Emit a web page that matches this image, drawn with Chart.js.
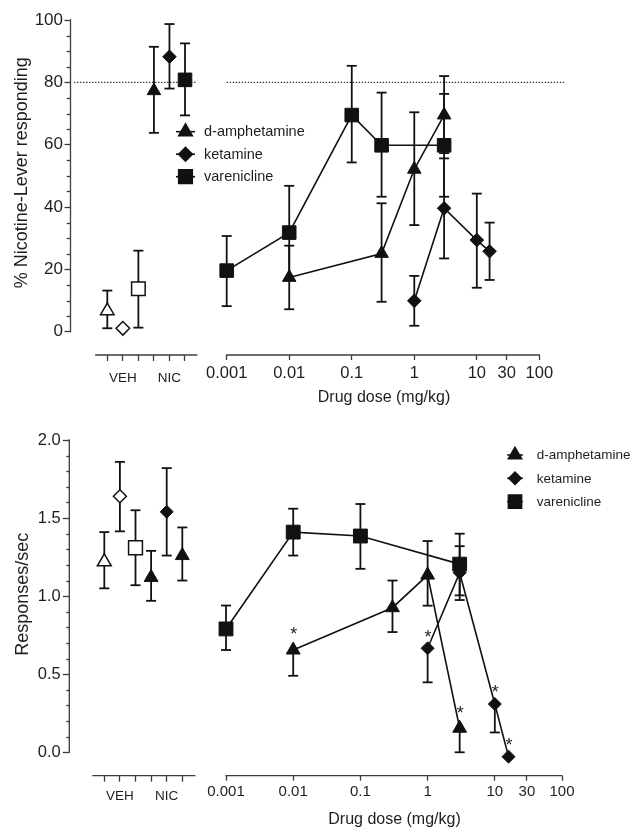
<!DOCTYPE html>
<html>
<head>
<meta charset="utf-8">
<title>Nicotine discrimination – dose response</title>
<script src="https://cdn.jsdelivr.net/npm/chart.js@4.4.1/dist/chart.umd.min.js"></script>
<style>
  html, body { margin: 0; padding: 0; background: #ffffff; }
  #page { position: relative; width: 633px; height: 831px; overflow: hidden; background: #fff; }
  canvas { position: absolute; left: 0; }
  #cA { top: 0; }
  #cB { top: 415px; }
</style>
</head>
<body>
<div id="page">
  <canvas id="cA" width="633" height="415"></canvas>
  <canvas id="cB" width="633" height="416"></canvas>
</div>
<script>
// ================= DATA =================
const drugNames = ['d-amphetamine', 'ketamine', 'varenicline'];
const drugShapes = ['triangle', 'diamond', 'square'];

const groupTickValues = [1, 2, 3, 4, 5, 6];
const groupTickLabels = ['', 'VEH', '', '', 'NIC', ''];
const doseTickValues = [0.001, 0.01, 0.1, 1, 10, 30, 100];
const doseTickLabels = ['0.001', '0.01', '0.1', '1', '10', '30', '100'];

// ---- Panel A: % nicotine-lever responding ----
const aYTickLabels = ['0', '20', '40', '60', '80', '100'];
const aCriterion = 80;
const aCtrlPos = [1, 2, 3, 4, 5, 6];
const aCtrlShape = ['triangle', 'diamond', 'square', 'triangle', 'diamond', 'square'];
const aCtrlFilled = [false, false, false, true, true, true];
const aCtrlMean = [6.7, 1.1, 13.8, 77.3, 88.2, 80.8];
const aCtrlHi = [13.2, 1.1, 26.0, 91.4, 98.7, 92.5];
const aCtrlLo = [1.1, 1.1, 1.3, 63.8, 78.0, 69.4];

const aAmphDose = [0.01, 0.3, 1, 3];
const aAmphMean = [17.4, 25.1, 52.1, 69.5];
const aAmphHi = [27.6, 41.2, 70.4, 82.0];
const aAmphLo = [7.2, 9.6, 34.2, 57.3];

const aKetDose = [1, 3, 10, 16];
const aKetMean = [9.9, 39.6, 29.4, 25.8];
const aKetHi = [17.9, 55.6, 44.3, 35.0];
const aKetLo = [1.9, 23.5, 14.1, 16.6];

const aVarDose = [0.001, 0.01, 0.1, 0.3, 3];
const aVarMean = [19.6, 31.8, 69.5, 59.8, 59.8];
const aVarHi = [30.7, 46.8, 85.3, 76.7, 76.3];
const aVarLo = [8.2, 16.8, 54.3, 43.3, 43.3];

// ---- Panel B: responses/sec ----
const bYTickLabels = ['0.0', '0.5', '1.0', '1.5', '2.0'];
const bCtrlPos = [1, 2, 3, 4, 5, 6];
const bCtrlShape = ['triangle', 'diamond', 'square', 'triangle', 'diamond', 'triangle'];
const bCtrlFilled = [false, false, false, true, true, true];
const bCtrlMean = [1.22, 1.64, 1.31, 1.12, 1.54, 1.26];
const bCtrlHi = [1.41, 1.86, 1.55, 1.29, 1.82, 1.44];
const bCtrlLo = [1.05, 1.415, 1.07, 0.97, 1.26, 1.10];

const bAmphDose = [0.01, 0.3, 1, 3];
const bAmphMean = [0.655, 0.926, 1.135, 0.154];
const bAmphHi = [0.655, 1.10, 1.353, 0.154];
const bAmphLo = [0.49, 0.77, 0.939, 0.0];
const bAmphSig = [true, false, false, true];

const bKetDose = [1, 3, 10, 16];
const bKetMean = [0.666, 1.15, 0.309, -0.028];
const bKetHi = [0.666, 1.32, 0.309, -0.028];
const bKetLo = [0.448, 0.975, 0.127, -0.028];
const bKetSig = [true, false, true, true];

const bVarDose = [0.001, 0.01, 0.1, 3];
const bVarMean = [0.79, 1.41, 1.385, 1.205];
const bVarHi = [0.94, 1.56, 1.59, 1.40];
const bVarLo = [0.655, 1.26, 1.175, 1.005];
const bVarSig = [false, false, false, false];

// ================= STYLE =================
const INK = '#111111';
const AXIS = '#3c3c3c';
const TEXT = '#1e1e1e';
const FONT = "'Liberation Sans', Arial, Helvetica, sans-serif";
const STYLE = { triangle: 'triangle', diamond: 'rectRot', square: 'rect' };

function pts(xs, ys) { return xs.map((x, i) => ({ x: x, y: ys[i] })); }

function drugDataset(name, shape, dose, mean, hi, lo, sig, radius) {
  return {
    label: name, shape: shape, isDrug: true,
    xAxisID: 'xr', yAxisID: 'y',
    data: pts(dose, mean), errHi: hi, errLo: lo, sig: sig || dose.map(() => false),
    showLine: true, borderColor: INK, borderWidth: 1.6, backgroundColor: INK,
    pointStyle: STYLE[shape], pointRadius: radius[shape], pointHoverRadius: radius[shape],
    pointBackgroundColor: INK, pointBorderColor: INK, pointBorderWidth: 1
  };
}
function ctrlDatasets(pos, shape, filled, mean, hi, lo, radius) {
  return pos.map((p, i) => ({
    label: 'control ' + (i + 1), isDrug: false,
    xAxisID: 'xl', yAxisID: 'y',
    data: [{ x: p, y: mean[i] }], errHi: [hi[i]], errLo: [lo[i]], sig: [false],
    showLine: false,
    pointStyle: STYLE[shape[i]], pointRadius: radius[shape[i]], pointHoverRadius: radius[shape[i]],
    pointBackgroundColor: filled[i] ? INK : '#ffffff', pointBorderColor: INK,
    pointBorderWidth: filled[i] ? 1 : 1.5
  }));
}

function line(ctx, x1, y1, x2, y2) { ctx.beginPath(); ctx.moveTo(x1, y1); ctx.lineTo(x2, y2); ctx.stroke(); }
function isMajor(v, major) { const k = v / major; return Math.abs(k - Math.round(k)) < 1e-6; }

const decorPlugin = {
  id: 'decor',
  beforeDatasetsDraw(chart) {
    const c = chart.options.plugins.decor;
    const ctx = chart.ctx, y = chart.scales.y, xl = chart.scales.xl, xr = chart.scales.xr, area = chart.chartArea;
    ctx.save();
    // axis lines (offset, GraphPad style)
    ctx.strokeStyle = AXIS; ctx.lineWidth = 1.3;
    line(ctx, area.left, y.getPixelForValue(0) + 0.65, area.left, y.getPixelForValue(c.yMax) - 0.65);
    line(ctx, xl.getPixelForValue(c.xlAxis[0]), area.bottom, xl.getPixelForValue(c.xlAxis[1]), area.bottom);
    line(ctx, xr.getPixelForValue(doseTickValues[0]) - 0.65, area.bottom,
              xr.getPixelForValue(doseTickValues[doseTickValues.length - 1]) + 0.65, area.bottom);
    // minor y ticks (shorter than the major ones drawn by the scale)
    y.ticks.forEach(t => {
      if (isMajor(t.value, c.yMajor)) return;
      const py = Math.round(y.getPixelForValue(t.value)) + 0.5;
      line(ctx, area.left - c.yMinorLen, py, area.left, py);
    });
    // criterion line
    if (c.ref != null) {
      const yy = y.getPixelForValue(c.ref);
      ctx.strokeStyle = '#333'; ctx.lineWidth = 1.4; ctx.setLineDash([1.4, 1.6]);
      line(ctx, xl.getPixelForValue(c.refLeft[0]), yy, xl.getPixelForValue(c.refLeft[1]), yy);
      line(ctx, xr.getPixelForValue(c.refRight[0]), yy, xr.getPixelForValue(c.refRight[1]), yy);
      ctx.setLineDash([]);
    }
    // error bars
    ctx.strokeStyle = INK; ctx.lineWidth = 1.8;
    chart.data.datasets.forEach(ds => {
      const xs = chart.scales[ds.xAxisID];
      ds.data.forEach((p, i) => {
        const px = xs.getPixelForValue(p.x), pm = y.getPixelForValue(p.y);
        [ds.errHi[i], ds.errLo[i]].forEach(v => {
          if (v == null || Math.abs(v - p.y) < 1e-9) return;
          const pv = y.getPixelForValue(v);
          line(ctx, px, pm, px, pv);
          line(ctx, px - c.cap, pv, px + c.cap, pv);
        });
      });
    });
    ctx.restore();
  },
  afterDatasetsDraw(chart) {
    const c = chart.options.plugins.decor;
    const ctx = chart.ctx, y = chart.scales.y, xr = chart.scales.xr;
    ctx.save();
    ctx.fillStyle = TEXT;
    // significance asterisks
    ctx.font = c.starFont + 'px ' + FONT; ctx.textAlign = 'center'; ctx.textBaseline = 'alphabetic';
    chart.data.datasets.forEach(ds => {
      if (!ds.isDrug) return;
      ds.data.forEach((p, i) => {
        if (!ds.sig[i]) return;
        const px = chart.scales[ds.xAxisID].getPixelForValue(p.x), py = y.getPixelForValue(p.y);
        ctx.fillText('*', px + 0.5, py - c.starOffset[ds.shape] + c.starFont * 0.57);
      });
    });
    // legend
    const L = c.legend;
    drugNames.forEach((name, k) => {
      const ds = chart.data.datasets.find(d => d.isDrug && d.label === name);
      const ly = L.y + k * L.dy;
      ctx.strokeStyle = INK; ctx.lineWidth = 1.6;
      line(ctx, L.x - L.half, ly, L.x + L.half, ly);
      ctx.fillStyle = INK;
      Chart.helpers.drawPoint(ctx, { pointStyle: ds.pointStyle, radius: ds.pointRadius * L.scale, rotation: 0, borderWidth: 1 }, L.x, ly);
      ctx.fillStyle = TEXT; ctx.font = L.font + 'px ' + FONT; ctx.textAlign = 'left'; ctx.textBaseline = 'middle';
      ctx.fillText(name, L.textX, ly + 0.5);
    });
    // axis titles
    ctx.fillStyle = TEXT; ctx.textAlign = 'center'; ctx.textBaseline = 'middle';
    ctx.font = c.yTitleFont + 'px ' + FONT;
    ctx.save(); ctx.translate(c.yTitleX, c.yTitleY); ctx.rotate(-Math.PI / 2); ctx.fillText(c.yTitle, 0, 0); ctx.restore();
    const x0 = xr.getPixelForValue(doseTickValues[0]), x1 = xr.getPixelForValue(doseTickValues[doseTickValues.length - 1]);
    ctx.font = c.xTitleFont + 'px ' + FONT;
    ctx.fillText(c.xTitle, (x0 + x1) / 2 + c.xTitleDx, c.xTitleY);
    ctx.restore();
  }
};

function makePanel(c, datasets) {
  return new Chart(document.getElementById(c.canvas), {
    type: 'scatter',
    data: { datasets: datasets },
    plugins: [decorPlugin],
    options: {
      responsive: false, animation: false, events: [], devicePixelRatio: 1,
      layout: { padding: { top: c.padTop, right: c.padRight, bottom: 0, left: 0 } },
      plugins: {
        legend: { display: false }, tooltip: { enabled: false },
        decor: c
      },
      scales: {
        y: {
          type: 'linear', position: 'left', min: c.yMin, max: c.yMax, bounds: 'data',
          afterFit: s => { s.width = c.yWidth; },
          afterBuildTicks: s => {
            const t = []; const n = Math.round(c.yMax / c.yStep);
            for (let k = 0; k <= n; k++) t.push({ value: +(k * c.yStep).toFixed(6) });
            s.ticks = t;
          },
          ticks: {
            autoSkip: false, padding: c.yPad, color: TEXT, font: { size: c.yFont, family: FONT },
            callback: v => isMajor(v, c.yMajor) ? c.yLabels[Math.round(v / c.yMajor)] : ''
          },
          grid: {
            drawOnChartArea: false, drawTicks: true, tickLength: c.yMajorLen, tickWidth: 1.3,
            tickColor: ctx => (ctx.tick && isMajor(ctx.tick.value, c.yMajor)) ? AXIS : 'rgba(0,0,0,0)'
          },
          border: { display: false }
        },
        xl: {
          type: 'linear', position: 'bottom', weight: 0, stack: 'xaxis', stackWeight: c.xlWeight,
          min: c.xlMin, max: c.xlMax, bounds: 'data',
          afterFit: s => { s.height = c.xrHeight; },
          afterBuildTicks: s => { s.ticks = groupTickValues.map(v => ({ value: v })); },
          ticks: {
            autoSkip: false, maxRotation: 0, minRotation: 0, padding: c.xlPad, color: TEXT,
            font: { size: c.xlFont, family: FONT },
            callback: (v, i) => groupTickLabels[i]
          },
          grid: { drawOnChartArea: false, drawTicks: true, tickLength: 6, tickColor: AXIS, tickWidth: 1.3 },
          border: { display: false }
        },
        xr: {
          type: 'logarithmic', position: 'bottom', weight: 1, stack: 'xaxis', stackWeight: c.xrWeight,
          min: c.xrMin, max: c.xrMax, bounds: 'data',
          afterFit: s => { s.height = c.xrHeight; },
          afterBuildTicks: s => { s.ticks = doseTickValues.map(v => ({ value: v })); },
          ticks: {
            autoSkip: false, maxRotation: 0, minRotation: 0, padding: c.xrPad, color: TEXT,
            font: { size: c.xrFont, family: FONT },
            callback: (v, i) => doseTickLabels[i]
          },
          grid: { drawOnChartArea: false, drawTicks: true, tickLength: 5, tickColor: AXIS, tickWidth: 1.3 },
          border: { display: false }
        }
      }
    }
  });
}

// ---------- Panel A ----------
// plot area spans x 70.5..610; left segment 70.5..205, log segment 205..610
const panelA = {
  canvas: 'cA', padTop: 20, padRight: 23, yWidth: 70.5, xrHeight: 60,
  yMin: -7.475, yMax: 100, yStep: 5, yMajor: 20, yLabels: aYTickLabels, yMajorLen: 6, yMinorLen: 3.8,
  xlWeight: 134.5, xrWeight: 405,
  xlMin: -1.368, xlMax: 7.287, xrMin: Math.pow(10, -3.347), xrMax: Math.pow(10, 3.13),
  xlAxis: [0.22, 6.8],
  yFont: 17, yPad: 1.5, xrFont: 16.5, xrPad: 3.4, xlFont: 13.5, xlPad: 8.9,
  ref: aCriterion, refLeft: [-1.14, 6.77], refRight: [0.001, 257],
  cap: 5, starFont: 18, starOffset: { triangle: 20, diamond: 16, square: 18 },
  radius: { triangle: 7.8, diamond: 6.8, square: 9.6 },
  legend: { x: 185.5, y: 131.7, dy: 22.5, half: 9.5, textX: 204, font: 14.5, scale: 1 },
  yTitle: '% Nicotine-Lever responding', yTitleFont: 18, yTitleX: 22, yTitleY: 172.7,
  xTitle: 'Drug dose (mg/kg)', xTitleFont: 16, xTitleDx: 1, xTitleY: 397.6
};
makePanel(panelA, [
  drugDataset(drugNames[2], drugShapes[2], aVarDose, aVarMean, aVarHi, aVarLo, null, panelA.radius),
  drugDataset(drugNames[0], drugShapes[0], aAmphDose, aAmphMean, aAmphHi, aAmphLo, null, panelA.radius),
  drugDataset(drugNames[1], drugShapes[1], aKetDose, aKetMean, aKetHi, aKetLo, null, panelA.radius)
].concat(ctrlDatasets(aCtrlPos, aCtrlShape, aCtrlFilled, aCtrlMean, aCtrlHi, aCtrlLo, panelA.radius)));

// ---------- Panel B ----------
// plot area spans x 69.3..610; left segment 69.3..205, log segment 205..610
const panelB = {
  canvas: 'cB', padTop: 25, padRight: 23, yWidth: 69.3, xrHeight: 55.3,
  yMin: -0.1499, yMax: 2, yStep: 0.1, yMajor: 0.5, yLabels: bYTickLabels, yMajorLen: 6.5, yMinorLen: 3,
  xlWeight: 135.7, xrWeight: 405,
  xlMin: -1.244, xlMax: 7.455, xrMin: Math.pow(10, -3.3125), xrMax: Math.pow(10, 2.714),
  xlAxis: [0.23, 6.84],
  yFont: 16.5, yPad: 2, xrFont: 15, xrPad: 2.3, xlFont: 13.5, xlPad: 6.5,
  ref: null,
  cap: 5, starFont: 18, starOffset: { triangle: 20, diamond: 16, square: 18 },
  radius: { triangle: 8, diamond: 6.5, square: 9.8 },
  legend: { x: 515, y: 40, dy: 23.3, half: 7.8, textX: 536.7, font: 13.5, scale: 0.95 },
  yTitle: 'Responses/sec', yTitleFont: 18, yTitleX: 23.5, yTitleY: 179.2,
  xTitle: 'Drug dose (mg/kg)', xTitleFont: 16, xTitleDx: 0.5, xTitleY: 404.2
};
makePanel(panelB, [
  drugDataset(drugNames[2], drugShapes[2], bVarDose, bVarMean, bVarHi, bVarLo, bVarSig, panelB.radius),
  drugDataset(drugNames[0], drugShapes[0], bAmphDose, bAmphMean, bAmphHi, bAmphLo, bAmphSig, panelB.radius),
  drugDataset(drugNames[1], drugShapes[1], bKetDose, bKetMean, bKetHi, bKetLo, bKetSig, panelB.radius)
].concat(ctrlDatasets(bCtrlPos, bCtrlShape, bCtrlFilled, bCtrlMean, bCtrlHi, bCtrlLo, panelB.radius)));
</script>
</body>
</html>
